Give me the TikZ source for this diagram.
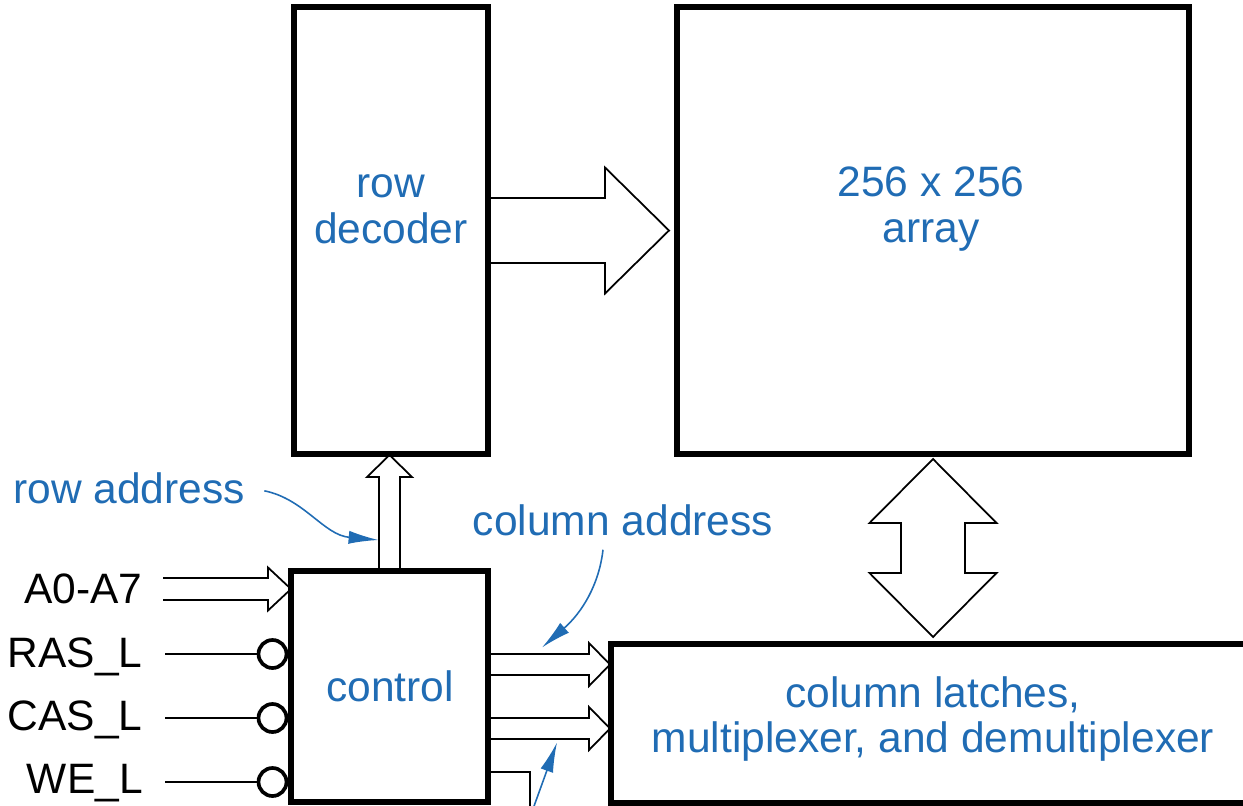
\documentclass[tikz,border=0pt]{standalone}
\usepackage{fontspec}
\setmainfont{Liberation Sans}
\usetikzlibrary{calc,arrows.meta}
\definecolor{lblue}{RGB}{32,108,180}
\tikzset{
  box/.style={draw, line width=2.3pt, inner sep=0pt},
  fat/.style={draw, line width=1pt, fill=white, line join=miter},
  wire/.style={line width=1.2pt},
  bubble/.style={circle, draw, line width=2.1pt, minimum size=0.56cm, inner sep=0pt, fill=white},
  txt/.style={font=\fontsize{24.2}{26}\selectfont, inner sep=0pt},
  btxt/.style={txt, text=lblue, align=center},
  callout/.style={draw=lblue, line width=0.9pt, -{Latex[length=17pt,width=7.5pt]}},
}
\begin{document}
\begin{tikzpicture}[x=0.02cm,y=-0.02cm]
\useasboundingbox (0,0) rectangle (1243,805);
% boxes
\node[box, minimum width=3.84cm, minimum height=8.9cm] (rowdec) at (391,230.5) {};
\node[box, minimum width=10.2cm, minimum height=8.9cm] (array) at (933,230.5) {};
\node[box, minimum width=3.9cm, minimum height=4.58cm] (control) at (389.5,686.5) {};
\node[box, minimum width=12.84cm, minimum height=3.14cm] (latches) at (933,723.5) {};
% texts
\node[btxt] (trd) at (391,209) {row\\decoder};
\node[btxt] (tar) at (931,209) {256 x 256\\array};
\node[btxt] (tct) at (390,686) {control};
\node[btxt] (tla) at (933,719) {column latches,\\multiplexer, and demultiplexer};
\node[btxt, anchor=base west] (rowaddr) at (13,503) {row address};
\node[btxt, anchor=base] (coladdr) at (623,535) {column address};
% input labels
\node[txt, anchor=base east] (la) at (143,603) {A0-A7};
\node[txt, anchor=base east] (ras) at (143,667) {RAS\_L};
\node[txt, anchor=base east] (cas) at (143,730) {CAS\_L};
\node[txt, anchor=base east] (we) at (143,793) {WE\_L};
\coordinate (wl) at (165,0);
% fat arrow row decoder -> array
\coordinate (r0) at (rowdec.east);
\draw[fat] ($(r0)+(0,-32.5)$) -- ($(r0)+(116,-32.5)$) -- ($(r0)+(116,-63)$) -- ($(r0)+(180,0)$)
  -- ($(r0)+(116,63)$) -- ($(r0)+(116,32.5)$) -- ($(r0)+(0,32.5)$);
% row address arrow control -> row decoder
\coordinate (c0) at (control.north);
\draw[fat] ($(c0)+(-10.5,0)$) -- ($(c0)+(-10.5,-93)$) -- ($(c0)+(-22.5,-93)$) -- ($(c0)+(0,-115)$)
  -- ($(c0)+(22.5,-93)$) -- ($(c0)+(10.5,-93)$) -- ($(c0)+(10.5,0)$);
% A0-A7 arrow
\coordinate (atip) at ($(control.north west)+(1,19)$);
\draw[fat] ($(atip)+(-128,-11)$) -- ($(atip)+(-23,-11)$) -- ($(atip)+(-23,-21.5)$) -- (atip)
  -- ($(atip)+(-23,21.5)$) -- ($(atip)+(-23,11)$) -- ($(atip)+(-128,11)$);
% bubbles and wires
\node[bubble] (rasb) at (272.5,654) {};
\node[bubble] (casb) at (272.5,718) {};
\node[bubble] (web) at (272.5,782) {};
\draw[wire] (rasb.west) -- (rasb.west -| wl);
\draw[wire] (casb.west) -- (casb.west -| wl);
\draw[wire] (web.west) -- (web.west -| wl);
% column address arrows control -> latches
\coordinate (ca1) at ($(control.east)+(0,-22)$);
\coordinate (ca2) at ($(control.east)+(0,42)$);
\foreach \c in {ca1,ca2}{
  \draw[fat] ($(\c)+(0,-10.5)$) -- ($(\c)+(100,-10.5)$) -- ($(\c)+(100,-21.5)$) -- ($(\c)+(121,0)$)
    -- ($(\c)+(100,21.5)$) -- ($(\c)+(100,10.5)$) -- ($(\c)+(0,10.5)$);
}
\coordinate (ca3) at ($(control.east)+(0,85.5)$);
\draw[wire] (ca3) -- ++(41,0) -- ++(0,45);
% double arrow array <-> latches
\coordinate (dt) at ($(array.south)+(0,4)$);
\coordinate (db) at ($(latches.north)+(0,-6)$);
\draw[fat] (dt) -- ($(dt)+(63.5,64)$) -- ($(dt)+(32,64)$) -- ($(db)+(32,-64)$) -- ($(db)+(63.5,-64)$)
  -- (db) -- ($(db)+(-63.5,-64)$) -- ($(db)+(-32,-64)$) -- ($(dt)+(-32,64)$) -- ($(dt)+(-63.5,64)$) -- cycle;
% redraw boxes borders on top
\draw[line width=2.3pt] (rowdec.north west) rectangle (rowdec.south east);
\draw[line width=2.3pt] (array.north west) rectangle (array.south east);
\draw[line width=2.3pt] (control.north west) rectangle (control.south east);
\draw[line width=2.3pt] (latches.north west) rectangle (latches.south east);
% callouts
\coordinate (ra1) at ($(rowaddr.east)+(19,3)$);
\coordinate (ra2) at ($(c0)+(-11,-30)$);
\draw[callout] (ra1) .. controls ($(ra1)+(40,8)$) and ($(ra2)+(-55,-5)$) .. (ra2);
\coordinate (cb1) at ($(coladdr.south)+(-20,14)$);
\coordinate (cb2) at ($(ca1)+(53,-17)$);
\draw[callout] (cb1) .. controls ($(cb1)+(-4,35)$) and ($(cb2)+(40,-35)$) .. (cb2);
\coordinate (cc1) at (529,820);
\coordinate (cc2) at ($(ca2)+(68,14)$);
\draw[callout] (cc1) -- (cc2);
\end{tikzpicture}
\end{document}
